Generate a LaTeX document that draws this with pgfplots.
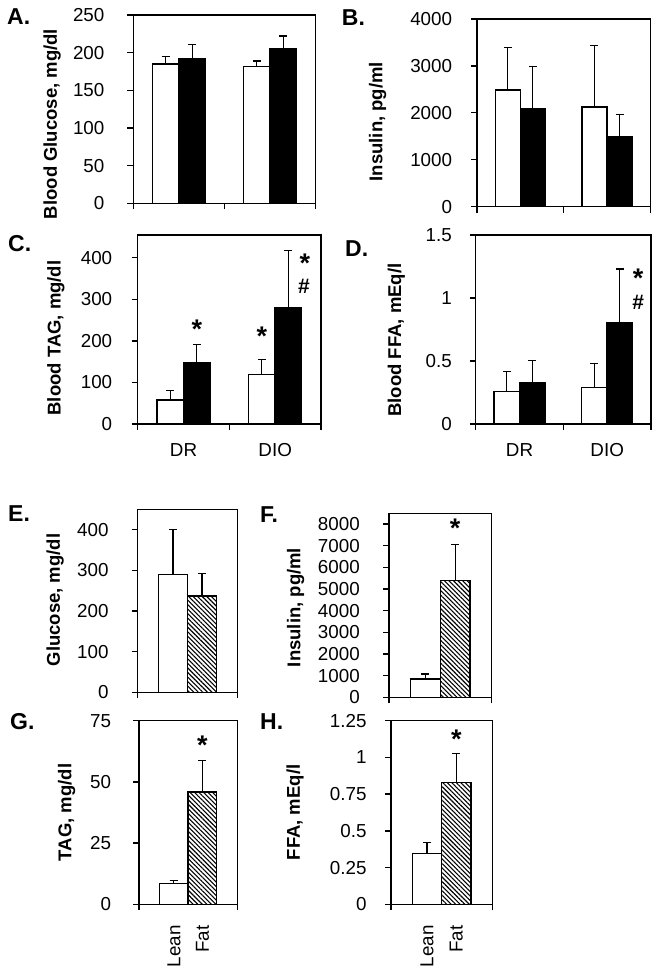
\documentclass[border=0pt]{standalone}
\usepackage{fontspec}
\setmainfont{Liberation Sans}
\usepackage{pgfplots}
\pgfplotsset{compat=1.18}
\usetikzlibrary{patterns.meta}

\pgfplotsset{
  panel/.style={
    scale only axis, anchor=south west,
    ymin=0, xmin=0, enlargelimits=false, clip=false,
    axis line style={line width=1.5pt},
    tick style={line width=1.3pt, black},
    major tick length=6pt, tick align=outside,
    xtick pos=left, ytick pos=left,
    xticklabels={},
    tick label style={font=\fontsize{18.8}{20}\selectfont},
    yticklabel style={anchor=east, inner sep=0pt},
    label style={font=\bfseries\fontsize{18.5}{20}\selectfont},
  },
  wbar/.style={ybar, bar width=0.29, bar shift=0pt, fill=white, draw=black, line width=1.4pt,
    error bars/.cd, y dir=plus, y explicit,
    error bar style={line width=1.2pt, black},
    error mark options={rotate=90, line width=1.2pt, black, mark size=4pt}},
  kbar/.style={ybar, bar width=0.29, bar shift=0pt, fill=black, draw=black, line width=1.4pt,
    error bars/.cd, y dir=plus, y explicit,
    error bar style={line width=1.2pt, black},
    error mark options={rotate=90, line width=1.2pt, black, mark size=4pt}},
  hbar/.style={ybar, bar width=0.29, bar shift=0pt, draw=black, line width=1.4pt,
    pattern={Lines[angle=-45, distance=3.2pt, line width=1.1pt]},
    error bars/.cd, y dir=plus, y explicit,
    error bar style={line width=1.2pt, black},
    error mark options={rotate=90, line width=1.2pt, black, mark size=4pt}},
}
\tikzset{
  mystar/.style={anchor=north, inner sep=0pt, font=\bfseries\fontsize{27}{27}\selectfont},
  myhash/.style={anchor=north, inner sep=0pt, font=\bfseries\fontsize{21}{21}\selectfont},
}
\newcommand{\plet}{\bfseries\fontsize{23}{23}\selectfont}

\begin{document}
\begin{tikzpicture}
\useasboundingbox (0,0) rectangle (660pt,969pt);

% ---------- A ----------
\begin{axis}[panel, at={(133.3pt,765.7pt)}, width=182.4pt, height=188.3pt,
  xmax=2, ymax=250, xtick={0,1,2},
  ytick={0,50,100,150,200,250}, yticklabels={0,50,100,150,200,250},
  yticklabel style={xshift=-22.7pt},
  ylabel={Blood Glucose, mg/dl},
  ylabel style={at={(axis description cs:-0.445,0.421)}, anchor=center}]
\addplot[wbar] coordinates {(0.355,185) +- (0,10) (1.355,182) +- (0,7)};
\addplot[kbar] coordinates {(0.645,192.5) +- (0,18) (1.645,205) +- (0,17)};
\end{axis}

% ---------- B ----------
\begin{axis}[panel, at={(477pt,762.3pt)}, width=173.3pt, height=187.7pt,
  xmax=2, ymax=4000, xtick={0,1,2},
  ytick={0,1000,2000,3000,4000}, yticklabels={0,1000,2000,3000,4000},
  yticklabel style={xshift=-18.7pt},
  ylabel={Insulin, pg/ml},
  ylabel style={at={(axis description cs:-0.574,0.453)}, anchor=center}]
\addplot[wbar] coordinates {(0.355,2487) +- (0,909) (1.355,2124) +- (0,1308)};
\addplot[kbar] coordinates {(0.645,2096) +- (0,888) (1.645,1492) +- (0,476)};
\end{axis}

% ---------- C ----------
\begin{axis}[panel, at={(137.7pt,545pt)}, width=183.3pt, height=189pt,
  xmax=2, ymax=455, xtick={0,1,2},
  ytick={0,100,200,300,400}, yticklabels={0,100,200,300,400},
  yticklabel style={xshift=-19.3pt},
  extra x ticks={0.5,1.5}, extra x tick labels={DR,DIO},
  extra x tick style={major tick length=0pt,
    xticklabel style={anchor=north, inner sep=0pt, yshift=-19.4pt}},
  ylabel={Blood TAG, mg/dl},
  ylabel style={at={(axis description cs:-0.447,0.455)}, anchor=center}]
\addplot[wbar] coordinates {(0.355,58) +- (0,22) (1.355,119) +- (0,37)};
\addplot[kbar] coordinates {(0.645,147.5) +- (0,44.5) (1.645,281) +- (0,137)};
\node[mystar] at (axis cs:0.645,250) {*};
\node[mystar] at (axis cs:1.355,234) {*};
\node[mystar] at (axis cs:1.825,410) {*};
\node[myhash] at (axis cs:1.815,348) {\#};
\end{axis}

% ---------- D ----------
\begin{axis}[panel, at={(475.7pt,545pt)}, width=175.3pt, height=189pt,
  xmax=2, ymax=1.5, xtick={0,1,2},
  ytick={0,0.5,1,1.5}, yticklabels={0,0.5,1,1.5},
  yticklabel style={xshift=-17.7pt},
  extra x ticks={0.5,1.5}, extra x tick labels={DR,DIO},
  extra x tick style={major tick length=0pt,
    xticklabel style={anchor=north, inner sep=0pt, yshift=-19.4pt}},
  ylabel={Blood FFA, mEq/l},
  ylabel style={at={(axis description cs:-0.453,0.444)}, anchor=center}]
\addplot[wbar] coordinates {(0.355,0.257) +- (0,0.158) (1.355,0.291) +- (0,0.19)};
\addplot[kbar] coordinates {(0.645,0.328) +- (0,0.175) (1.645,0.804) +- (0,0.426)};
\node[mystar] at (axis cs:1.854,1.23) {*};
\node[myhash] at (axis cs:1.854,1.024) {\#};
\end{axis}

% ---------- E ----------
\begin{axis}[panel, at={(137.7pt,276.7pt)}, width=99.7pt, height=183pt,
  xmax=1, ymax=450, xtick={0,1},
  ytick={0,100,200,300,400}, yticklabels={0,100,200,300,400},
  yticklabel style={xshift=-23pt},
  ylabel={Glucose, mg/dl},
  ylabel style={at={(axis description cs:-0.829,0.504)}, anchor=center}]
\addplot[wbar] coordinates {(0.355,289) +- (0,112)};
\addplot[hbar] coordinates {(0.645,237) +- (0,55)};
\end{axis}

% ---------- F ----------
\begin{axis}[panel, at={(389pt,271.7pt)}, width=102.7pt, height=184pt,
  xmax=1, ymax=8500, xtick={0,1},
  ytick={0,1000,2000,3000,4000,5000,6000,7000,8000},
  yticklabels={0,1000,2000,3000,4000,5000,6000,7000,8000},
  yticklabel style={xshift=-23pt},
  ylabel={Insulin, pg/ml},
  ylabel style={at={(axis description cs:-0.910,0.488)}, anchor=center}]
\addplot[wbar] coordinates {(0.355,848) +- (0,231)};
\addplot[hbar] coordinates {(0.645,5393) +- (0,1679)};
\node[mystar] at (axis cs:0.645,8228) {*};
\end{axis}

% ---------- G ----------
\begin{axis}[panel, at={(139pt,64.7pt)}, width=98.3pt, height=183.6pt,
  xmax=1, ymax=75, xtick={0,1},
  ytick={0,25,50,75}, yticklabels={0,25,50,75},
  yticklabel style={xshift=-21.7pt},
  extra x ticks={0.355,0.645}, extra x tick labels={Lean,Fat},
  extra x tick style={major tick length=0pt,
    xticklabel style={inner sep=0pt, yshift=-21pt, rotate=90, anchor=east}},
  ylabel={TAG, mg/dl},
  ylabel style={at={(axis description cs:-0.735,0.5)}, anchor=center}]
\addplot[wbar] coordinates {(0.355,8.6) +- (0,1.1)};
\addplot[hbar] coordinates {(0.645,45.8) +- (0,12.9)};
\node[mystar] at (axis cs:0.645,69) {*};
\end{axis}

% ---------- H ----------
\begin{axis}[panel, at={(391pt,64.7pt)}, width=101.3pt, height=183.6pt,
  xmax=1, ymax=1.25, xtick={0,1},
  ytick={0,0.25,0.5,0.75,1,1.25}, yticklabels={0,0.25,0.5,0.75,1,1.25},
  yticklabel style={xshift=-18.3pt},
  extra x ticks={0.355,0.645}, extra x tick labels={Lean,Fat},
  extra x tick style={major tick length=0pt,
    xticklabel style={inner sep=0pt, yshift=-21pt, rotate=90, anchor=east}},
  ylabel={FFA, mEq/l},
  ylabel style={at={(axis description cs:-0.948,0.5)}, anchor=center}]
\addplot[wbar] coordinates {(0.355,0.347) +- (0,0.073)};
\addplot[hbar] coordinates {(0.645,0.83) +- (0,0.197)};
\node[mystar] at (axis cs:0.645,1.186) {*};
\end{axis}

% panel letters
\node[anchor=west, inner sep=0pt, font=\plet] at (7pt,952.3pt) {A.};
\node[anchor=west, inner sep=0pt, font=\plet] at (341.7pt,951.5pt) {B.};
\node[anchor=west, inner sep=0pt, font=\plet] at (8pt,725pt) {C.};
\node[anchor=west, inner sep=0pt, font=\plet] at (345pt,720.7pt) {D.};
\node[anchor=west, inner sep=0pt, font=\plet] at (8pt,455pt) {E.};
\node[anchor=west, inner sep=0pt, font=\plet] at (260pt,454pt) {F.};
\node[anchor=west, inner sep=0pt, font=\plet] at (10pt,247.5pt) {G.};
\node[anchor=west, inner sep=0pt, font=\plet] at (260pt,247.5pt) {H.};
\end{tikzpicture}
\end{document}
